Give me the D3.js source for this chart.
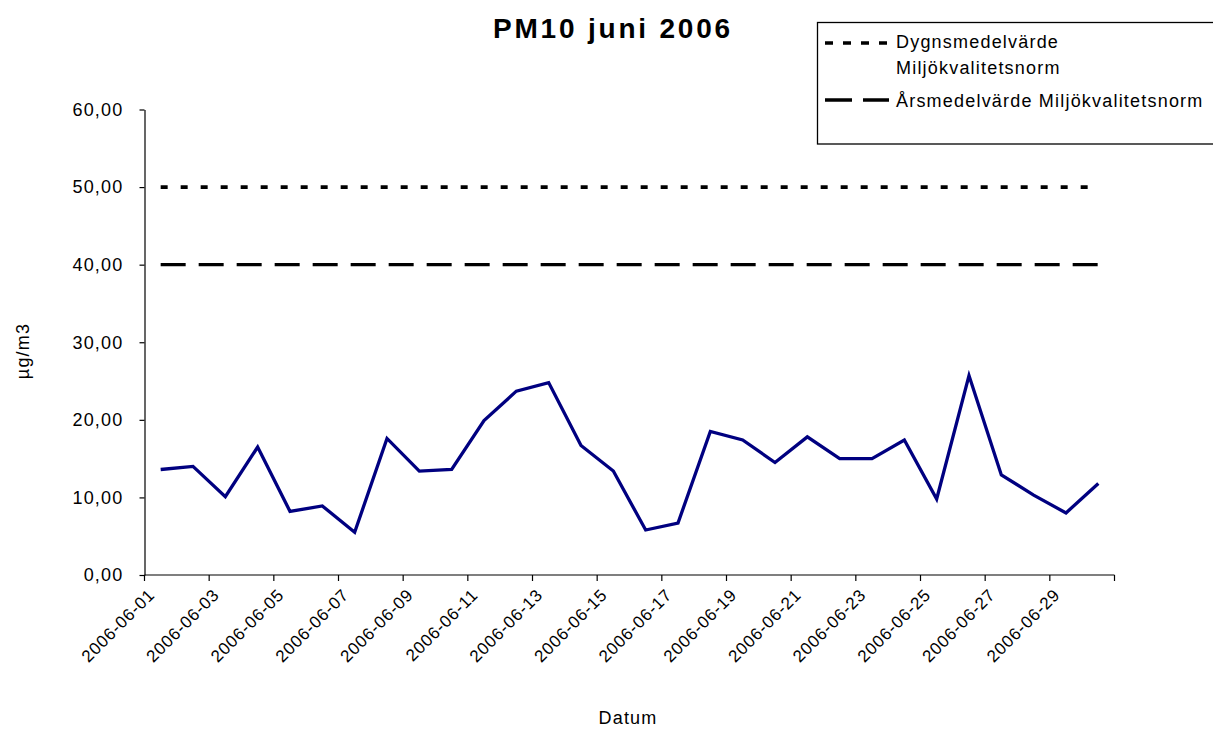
<!DOCTYPE html>
<html>
<head>
<meta charset="utf-8">
<script src="https://cdn.jsdelivr.net/npm/d3@7"></script>
<style>
  html, body { margin: 0; padding: 0; background: #fff; }
  svg { display: block; }
  text { font-family: "Liberation Sans", Arial, sans-serif; fill: #000; }
</style>
</head>
<body>
<svg id="chart" width="1213" height="731"></svg>
<script>
// ---- Data ----
const dates = [
  "2006-06-01","2006-06-02","2006-06-03","2006-06-04","2006-06-05","2006-06-06",
  "2006-06-07","2006-06-08","2006-06-09","2006-06-10","2006-06-11","2006-06-12",
  "2006-06-13","2006-06-14","2006-06-15","2006-06-16","2006-06-17","2006-06-18",
  "2006-06-19","2006-06-20","2006-06-21","2006-06-22","2006-06-23","2006-06-24",
  "2006-06-25","2006-06-26","2006-06-27","2006-06-28","2006-06-29","2006-06-30"
];
const pm10 = [
  13.6, 14.0, 10.1, 16.5, 8.2, 8.9, 5.5, 17.6, 13.4, 13.6,
  19.9, 23.7, 24.8, 16.7, 13.4, 5.8, 6.7, 18.5, 17.4, 14.5,
  17.8, 15.0, 15.0, 17.4, 9.8, 25.7, 12.9, 10.3, 8.0, 11.8
];
const dygnsNorm = 50;   // Dygnsmedelvärde Miljökvalitetsnorm
const arsNorm = 40;     // Årsmedelvärde Miljökvalitetsnorm
const yTicks = [0, 10, 20, 30, 40, 50, 60];
const xLabelDates = dates.filter((d, i) => i % 2 === 0);
const title = "PM10 juni 2006";
const xTitle = "Datum";
const yTitle = "µg/m3";
const legendLabels = ["Dygnsmedelvärde", "Miljökvalitetsnorm", "Årsmedelvärde Miljökvalitetsnorm"];

// ---- Layout ----
const svg = d3.select("#chart");
const plot = { left: 144.5, right: 1114.5, top: 109.5, bottom: 575 };

const x = d3.scaleBand().domain(dates).range([plot.left, plot.right]).paddingInner(0).paddingOuter(0);
const y = d3.scaleLinear().domain([0, 60]).range([plot.bottom, plot.top]);
const cx = d => x(d) + x.bandwidth() / 2;

const locale = d3.formatLocale({ decimal: ",", thousands: " ", grouping: [3], currency: ["", " kr"] });
const fmt = locale.format(".2f");

const FONT = 18;
const LS = "1.2px";

// Title
svg.append("text")
  .attr("x", 613).attr("y", 38)
  .attr("text-anchor", "middle")
  .style("font-size", "28px").style("font-weight", "bold").style("letter-spacing", "2.8px")
  .text(title);

// Y axis
const yAxis = d3.axisLeft(y).tickValues(yTicks).tickFormat(fmt).tickSize(5).tickSizeOuter(0);
const gy = svg.append("g").attr("transform", `translate(${plot.left},0)`).call(yAxis);
gy.select(".domain").attr("stroke", "#000").attr("stroke-width", 1.2);
gy.selectAll(".tick line").attr("stroke", "#000").attr("stroke-width", 1.2);
gy.selectAll(".tick text")
  .attr("x", -21)
  .style("font-size", FONT + "px").style("letter-spacing", LS)
  .style("font-family", "'Liberation Sans', Arial, sans-serif");

// X axis (ticks between categories)
const boundaries = dates.map(d => x(d)).concat([plot.right]);
const gx = svg.append("g");
gx.append("line")
  .attr("x1", plot.left).attr("x2", plot.right)
  .attr("y1", plot.bottom).attr("y2", plot.bottom)
  .attr("stroke", "#000").attr("stroke-width", 1.2);
gx.selectAll("line.tk").data(boundaries).join("line")
  .attr("class", "tk")
  .attr("x1", d => d).attr("x2", d => d)
  .attr("y1", plot.bottom).attr("y2", plot.bottom + 6)
  .attr("stroke", "#000").attr("stroke-width", 1.2)
  .attr("display", (d, i) => (i % 2 === 0 || i === boundaries.length - 1) ? null : "none");

gx.selectAll("text.xl").data(xLabelDates).join("text")
  .attr("class", "xl")
  .attr("text-anchor", "end")
  .attr("transform", d => `translate(${cx(d) - 5},${plot.bottom + 21}) rotate(-45)`)
  .style("font-size", "17px").style("letter-spacing", "0.8px")
  .text(d => d);

// Axis titles
svg.append("text")
  .attr("x", 628).attr("y", 724)
  .attr("text-anchor", "middle")
  .style("font-size", FONT + "px").style("letter-spacing", LS)
  .text(xTitle);

svg.append("text")
  .attr("transform", "translate(29,351) rotate(-90)")
  .attr("text-anchor", "middle")
  .style("font-size", FONT + "px").style("letter-spacing", LS)
  .text(yTitle);

// Norm lines
const first = dates[0], last = dates[dates.length - 1];
svg.append("line")
  .attr("x1", cx(first)).attr("x2", cx(last))
  .attr("y1", y(dygnsNorm)).attr("y2", y(dygnsNorm))
  .attr("stroke", "#000").attr("stroke-width", 3.7)
  .attr("stroke-dasharray", "7,13");
svg.append("line")
  .attr("x1", cx(first)).attr("x2", cx(last))
  .attr("y1", y(arsNorm)).attr("y2", y(arsNorm))
  .attr("stroke", "#000").attr("stroke-width", 3.4)
  .attr("stroke-dasharray", "25,13");

// PM10 line
const line = d3.line().x((d, i) => cx(dates[i])).y(d => y(d));
svg.append("path")
  .datum(pm10)
  .attr("d", line)
  .attr("fill", "none")
  .attr("stroke", "#000080")
  .attr("stroke-width", 3.3)
  .attr("stroke-linejoin", "miter");

// Legend
const lg = svg.append("g");
lg.append("rect")
  .attr("x", 817.5).attr("y", 22.5).attr("width", 420).attr("height", 121.5)
  .attr("fill", "#fff").attr("stroke", "#000").attr("stroke-width", 1.3);
lg.append("line")
  .attr("x1", 825).attr("x2", 892).attr("y1", 43).attr("y2", 43)
  .attr("stroke", "#000").attr("stroke-width", 3.7).attr("stroke-dasharray", "8,10");
lg.append("line")
  .attr("x1", 825).attr("x2", 889).attr("y1", 100).attr("y2", 100)
  .attr("stroke", "#000").attr("stroke-width", 3.4).attr("stroke-dasharray", "27,11");
lg.append("text").attr("x", 896).attr("y", 48)
  .style("font-size", FONT + "px").style("letter-spacing", LS).text(legendLabels[0]);
lg.append("text").attr("x", 896).attr("y", 74)
  .style("font-size", FONT + "px").style("letter-spacing", LS).text(legendLabels[1]);
lg.append("text").attr("x", 896).attr("y", 106.5)
  .style("font-size", FONT + "px").style("letter-spacing", LS).text(legendLabels[2]);
</script>
</body>
</html>
